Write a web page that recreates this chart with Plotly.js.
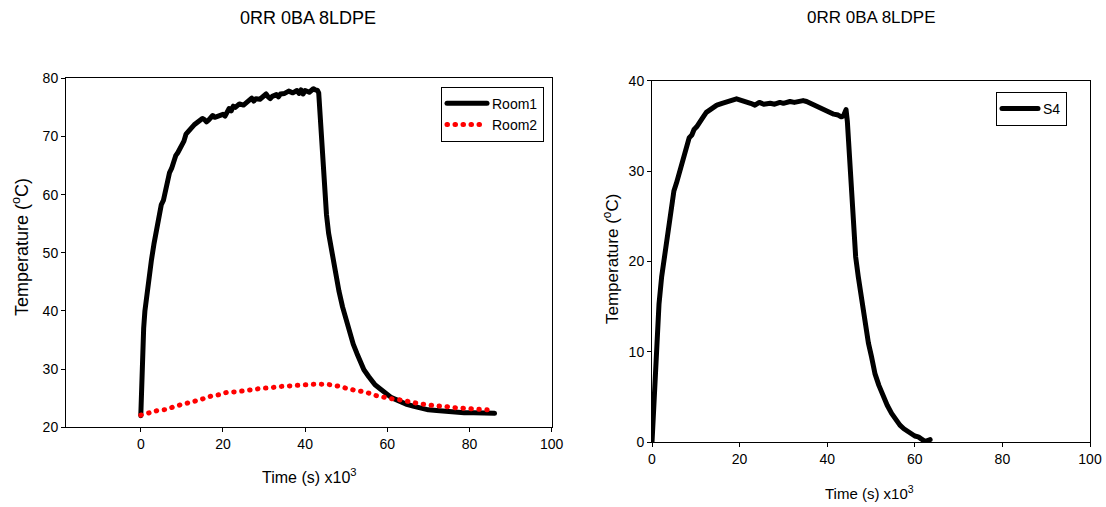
<!DOCTYPE html>
<html>
<head>
<meta charset="utf-8">
<script src="https://cdn.plot.ly/plotly-3.0.1.min.js"></script>
<style>
html,body{margin:0;padding:0;background:#fff;}
#chart{width:1106px;height:507px;}
path.js-line{stroke-linecap:round !important;stroke-linejoin:round !important;}
</style>
</head>
<body>
<div id="chart"></div>
<script>
// ---- Data (time in s x10^3, temperature in °C) ----
const room1Time = [0,0.2,0.4,0.7,1,1.3,2,2.6,3.2,3.9,4.5,5,5.5,6,6.5,7,7.5,8,8.5,9,9.5,10,10.5,11,11.5,12,12.5,13,14,15,15.5,16,16.5,17,17.5,18,19,20,20.5,21,21.5,22,22.5,23,24,25,26,27,27.5,28,29,30,30.5,31,31.5,32,33,33.5,34,35,36,37,38,38.5,39,39.5,40,41,42,42.5,43,43.3,43.6,43.9,44.3,44.8,45.2,45.7,46.5,47.4,48.2,49.1,50,50.9,51.7,52.6,53.5,54.3,55.5,57,58.3,59.6,61,62,63,64.5,66.5,68,70,72,74.3,76.5,78.7,81,83.5,86.1];
const room1Temp = [22,27,33,37,40,42,46,48.8,51.5,54.5,57,58.3,59,61,62.5,63.8,64.5,66,66.7,67.2,67.9,68.8,69.2,70.4,70.9,71.2,71.6,72,72.6,73.1,72.9,72.5,72.8,73.2,73.6,73.3,73.5,73.8,73.5,74.3,74.8,74.4,75.2,75,75.6,75.4,76,76.6,76.1,76.5,76.4,77,77.3,76.8,76.5,76.9,77.2,76.8,77.3,77.4,77.8,77.5,77.9,77.4,78,77.3,77.9,77.6,78.2,78,77.9,77.5,74,71.7,66,60.2,56.5,53.4,49.8,46.5,43.5,40.7,38.3,36.2,34.3,32.7,31.2,29.9,28.7,27.3,26.6,25.8,25.1,24.8,24.4,24,23.6,23.3,23,22.9,22.7,22.6,22.5,22.5,22.4,22.4];

const room2Time = [0,2.1,4.2,6.3,8.3,10.5,12.6,14.7,16.8,19,21,23.1,25.3,27.4,29.5,31.6,33.7,35.9,37.9,40,42.2,44.3,46.3,48.5,50.6,52.7,54.9,57,59,61.1,63.2,65.4,67.5,69.6,71.7,73.8,75.9,78,80.1,82.3,84.3];
const room2Temp = [22.1,22.5,22.9,23.1,23.6,24,24.4,24.8,25.3,25.6,26,26.1,26.3,26.5,26.7,26.8,27,27.1,27.2,27.3,27.4,27.4,27.3,27,26.6,26.3,26,25.5,25.2,24.9,24.7,24.4,24.1,23.9,23.7,23.6,23.4,23.3,23.2,23.1,23];

const s4Time = [0,0.25,0.46,0.75,1.07,1.6,2.2,2.7,3.3,3.9,4.5,5,5.6,6.2,6.8,7.3,7.9,8.5,9.1,9.6,10.2,11,11.7,12.4,13.2,14,14.8,16,17,18,19.3,20,21,21.6,22.5,23.5,24.5,25.5,26.2,27,28,29.2,30,31.5,32.5,33.5,34.5,35.3,36.1,37,38.4,39.5,40.6,41.5,42.5,43.2,43.7,44,44.3,44.6,44.9,45.2,45.6,46,46.5,47.1,47.7,48.3,48.8,49.4,50.1,50.9,51.8,52.8,53.7,54.7,55.6,56.6,57.5,58.5,59.2,60,60.8,61.6,62.3,62.9,63.5];
const s4Temp = [0,2.8,5.4,8.6,12.1,15.3,18.3,20.1,22,24.6,26.5,27.8,28.7,29.8,30.5,31.9,32.5,33.7,34,34.6,34.9,35.6,36,36.5,36.8,37.1,37.3,37.5,37.7,37.8,38,37.9,37.8,37.7,37.5,37.3,37.6,37.4,37.5,37.5,37.4,37.6,37.5,37.7,37.6,37.7,37.8,37.7,37.5,37.3,37,36.8,36.4,36.3,36.2,36,36.1,36.5,36.8,35.5,33,30.1,26,22.8,20.5,18.3,16.2,14.3,12.7,11,9.5,7.6,6.3,5.1,4.1,3.2,2.5,1.9,1.5,1.2,0.9,0.7,0.6,0.4,0.1,0.2,0.3];

const xTicks = [0,20,40,60,80,100];
const yTicksLeft = [20,30,40,50,60,70,80];
const yTicksRight = [0,10,20,30,40];
const chartTitle = '0RR 0BA 8LDPE';
const xTitle = 'Time (s) x10<sup>3</sup>';
const yTitle = 'Temperature (<sup>o</sup>C)';

const W = 1106, H = 507;
const FONT = 'Liberation Sans, Arial, sans-serif';

const traces = [
  {x: room1Time, y: room1Temp, name: 'Room1', type: 'scatter', mode: 'lines',
   line: {color: '#000000', width: 5}, xaxis: 'x', yaxis: 'y', legend: 'legend'},
  {x: room2Time, y: room2Temp, name: 'Room2', type: 'scatter', mode: 'lines',
   line: {color: '#ff0000', width: 5, dash: '0.5px,7.5px', shape: 'spline'}, xaxis: 'x', yaxis: 'y', legend: 'legend'},
  {x: s4Time, y: s4Temp, name: 'S4', type: 'scatter', mode: 'lines',
   line: {color: '#000000', width: 5}, xaxis: 'x2', yaxis: 'y2', legend: 'legend2'}
];

const axisCommon = {
  showgrid: false, zeroline: false, showline: true, mirror: true,
  linecolor: '#000', linewidth: 1, ticks: 'outside', ticklen: 4, tickcolor: '#000',
  tickfont: {family: FONT, size: 14, color: '#000'}
};

const layout = {
  width: W, height: H,
  margin: {l: 0, r: 0, t: 0, b: 0},
  paper_bgcolor: '#fff', plot_bgcolor: '#fff',
  font: {family: FONT, color: '#000'},
  xaxis: Object.assign({}, axisCommon, {domain: [66/W, 551.7/W], range: [-18.2, 100], tickvals: xTicks, anchor: 'y'}),
  yaxis: Object.assign({}, axisCommon, {domain: [1-427.3/H, 1-78.3/H], range: [20, 80], tickvals: yTicksLeft, anchor: 'x'}),
  xaxis2: Object.assign({}, axisCommon, {domain: [652/W, 1090/W], range: [0, 100], tickvals: xTicks, anchor: 'y2'}),
  yaxis2: Object.assign({}, axisCommon, {domain: [1-442.3/H, 1-80.7/H], range: [0, 40], tickvals: yTicksRight, anchor: 'x2'}),
  legend: {x: 441/W, y: 1-86.7/H, xanchor: 'left', yanchor: 'top', bordercolor: '#000', borderwidth: 1,
           bgcolor: '#fff', itemwidth: 40, font: {family: FONT, size: 14, color: '#000'}, tracegroupgap: 0},
  legend2: {x: 996/W, y: 1-92/H, xanchor: 'left', yanchor: 'top', bordercolor: '#000', borderwidth: 1,
           bgcolor: '#fff', itemwidth: 36, font: {family: FONT, size: 14, color: '#000'}},
  showlegend: true,
  annotations: [
    {text: chartTitle, xref: 'paper', yref: 'paper', x: 307.5/W, y: 1-18/H, xanchor: 'center', yanchor: 'middle', showarrow: false, font: {family: FONT, size: 18}},
    {text: chartTitle, xref: 'paper', yref: 'paper', x: 871/W, y: 1-18/H, xanchor: 'center', yanchor: 'middle', showarrow: false, font: {family: FONT, size: 17}},
    {text: xTitle, xref: 'paper', yref: 'paper', x: 309/W, y: 1-476/H, xanchor: 'center', yanchor: 'middle', showarrow: false, font: {family: FONT, size: 16}},
    {text: xTitle, xref: 'paper', yref: 'paper', x: 869/W, y: 1-492/H, xanchor: 'center', yanchor: 'middle', showarrow: false, font: {family: FONT, size: 15}},
    {text: yTitle, xref: 'paper', yref: 'paper', x: 20/W, y: 1-247/H, xanchor: 'center', yanchor: 'middle', textangle: -90, showarrow: false, font: {family: FONT, size: 18}},
    {text: yTitle, xref: 'paper', yref: 'paper', x: 611/W, y: 1-259/H, xanchor: 'center', yanchor: 'middle', textangle: -90, showarrow: false, font: {family: FONT, size: 17}}
  ]
};

Plotly.newPlot('chart', traces, layout, {displayModeBar: false, staticPlot: true});
</script>
</body>
</html>
